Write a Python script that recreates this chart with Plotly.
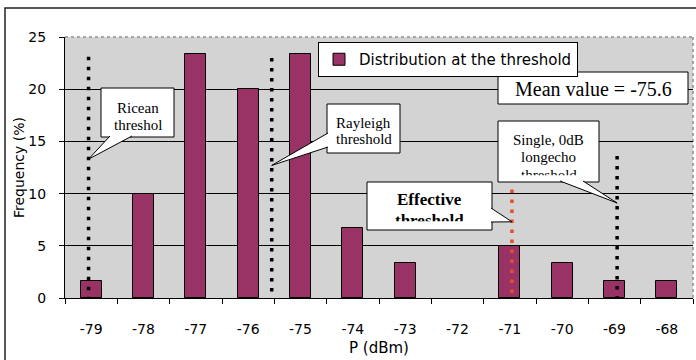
import plotly.graph_objects as go

# Received power bins (dBm) and share of measurements at the threshold (%)
power_dbm = [-79, -78, -77, -76, -75, -74, -73, -72, -71, -70, -69, -68]
frequency_pct = [1.67, 10.0, 23.33, 20.0, 23.33, 6.67, 3.33, 0.0, 5.0, 3.33, 1.67, 1.67]
tick_labels = [str(v) for v in power_dbm]

# Reference thresholds (dBm) and how high their markers rise (%)
threshold_names = ["Ricean", "Rayleigh", "Effective", "Single"]
threshold_dbm = [-79.05, -75.55, -70.96, -68.95]
threshold_top = [23.1, 23.0, 10.4, 13.6]
threshold_colors = ["black", "black", "#E0502E", "black"]
mean_value = -75.6

W, H = 696, 360
ML, MR, MT, MB = 65, 3, 37, 62
X0, X1 = -79.5, -67.5
Y0, Y1 = 0, 25
PW, PH = W - ML - MR, H - MT - MB


def dx(px):
    return X0 + (px - ML) / PW * (X1 - X0)


def dy(py):
    return Y0 + (H - MB - py) / PH * (Y1 - Y0)


def pxp(px):
    return (px - ML) / PW


def pyp(py):
    return (H - MB - py) / PH


fig = go.Figure()

fig.add_trace(go.Bar(
    x=power_dbm, y=frequency_pct, width=0.4,
    marker=dict(color="#993366",
                line=dict(color="black", width=[1 if v > 0 else 0 for v in frequency_pct])),
    name="Distribution at the threshold",
))

for name, xv, top, col in zip(threshold_names, threshold_dbm, threshold_top, threshold_colors):
    fig.add_trace(go.Scatter(
        x=[xv, xv], y=[top, 0], mode="lines", showlegend=False, hoverinfo="skip",
        line=dict(color=col, width=3.5, dash="3.5px,6.5px"),
    ))

shapes = []
# plot-area border (top and right), grey dotted
shapes.append(dict(type="line", xref="paper", yref="paper", x0=0, x1=1, y0=1, y1=1,
                   line=dict(color="#909090", width=1.5, dash="dot"), layer="below"))
shapes.append(dict(type="line", xref="paper", yref="paper", x0=1, x1=1, y0=0, y1=1,
                   line=dict(color="#909090", width=1.5, dash="dot"), layer="below"))
# chart frame
shapes.append(dict(type="rect", xref="paper", yref="paper",
                   x0=pxp(5), x1=pxp(704), y0=pyp(370), y1=pyp(8),
                   line=dict(color="#222222", width=1.5), fillcolor="rgba(0,0,0,0)"))

# callout boxes (pixel edges: left, right, top, bottom)
boxes = [
    (101, 174, 88, 137),    # Ricean
    (327, 400, 104, 153),   # Rayleigh
    (498, 688, 72, 104),    # mean value
    (498, 599, 121, 182),   # single echo
    (367, 492, 182, 230),   # effective
]
for (l, r, t, b) in boxes:
    shapes.append(dict(type="rect", xref="paper", yref="paper",
                       x0=pxp(l), x1=pxp(r), y0=pyp(b), y1=pyp(t),
                       fillcolor="white", line=dict(color="black", width=1), layer="above"))

# callout wedges: two base points (px) on the box edge, tip on the threshold marker
wedges = [
    ((110, 136), (132, 136), threshold_dbm[0], 13.3),
    ((328, 133), (328, 147), threshold_dbm[1], 12.7),
    ((560, 181), (583, 181), threshold_dbm[3], 9.1),
    ((491, 208), (491, 222), threshold_dbm[2], 7.3),
]
for (b1, b2, tx, ty) in wedges:
    path = "M {:.4f},{:.4f} L {:.4f},{:.4f} L {:.4f},{:.4f}".format(
        dx(b1[0]), dy(b1[1]), tx, ty, dx(b2[0]), dy(b2[1]))
    shapes.append(dict(type="path", xref="x", yref="y", path=path,
                       fillcolor="white", line=dict(color="black", width=1), layer="above"))

serif = "Liberation Serif, Times New Roman, serif"
ASC = 0.891  # serif ascent, em


def text_line(cx, baseline, text, size=15, bold=False, clip=None):
    top = baseline - ASC * size
    ann = dict(
        xref="paper", yref="paper", x=pxp(cx), y=pyp(top), xanchor="center", yanchor="top",
        text=("<b>%s</b>" % text) if bold else text, showarrow=False,
        align="center", valign="top", borderpad=0, borderwidth=0,
        font=dict(family=serif, size=size, color="black"),
    )
    if clip is not None:
        ann["height"] = clip - top
    return ann


annotations = [
    text_line(137.5, 113, "Ricean"),
    text_line(137.5, 130, "threshol"),
    text_line(363.5, 128, "Rayleigh"),
    text_line(363.5, 144, "threshold"),
    text_line(593, 96, "Mean value = %.1f" % mean_value, size=20, clip=97),
    text_line(548.5, 145, "Single, 0dB"),
    text_line(548.5, 162, "longecho"),
    text_line(548.5, 180, "threshold", clip=175),
    text_line(429.5, 205, "Effective", size=17, bold=True),
    text_line(429.5, 226, "threshold", size=17, bold=True, clip=221),
]

sans = "DejaVu Sans, Verdana, sans-serif"

fig.update_layout(
    width=W, height=H,
    margin=dict(l=ML, r=MR, t=MT, b=MB, autoexpand=False),
    paper_bgcolor="white", plot_bgcolor="#D3D3D3",
    font=dict(family=sans, size=14, color="black"),
    bargap=0,
    showlegend=True,
    legend=dict(x=pxp(318), y=pyp(42), xanchor="left", yanchor="top",
                bgcolor="white", bordercolor="black", borderwidth=1,
                font=dict(family=sans, size=15), itemwidth=30),
    shapes=shapes,
    annotations=annotations,
    xaxis=dict(
        range=[X0, X1], tickmode="array", tickvals=power_dbm, ticktext=tick_labels,
        ticks="", showgrid=False, zeroline=False,
        showline=True, linecolor="black", linewidth=1,
        ticklabelstandoff=18,
        minor=dict(tickmode="array", tickvals=[v - 0.5 for v in power_dbm] + [power_dbm[-1] + 0.5],
                   ticks="outside", ticklen=5, tickcolor="black", tickwidth=1, showgrid=False),
        title=dict(text="P (dBm)", font=dict(family=sans, size=15), standoff=6),
        tickfont=dict(family=sans, size=14),
    ),
    yaxis=dict(
        range=[Y0, Y1], tickmode="array", tickvals=[0, 5, 10, 15, 20, 25],
        ticks="outside", ticklen=5, tickcolor="black", tickwidth=1,
        showgrid=True, gridcolor="black", gridwidth=1, zeroline=False,
        showline=True, linecolor="black", linewidth=1,
        ticklabelstandoff=10,
        title=dict(text="Frequency (%)", font=dict(family=sans, size=14), standoff=0),
        tickfont=dict(family=sans, size=14),
    ),
)

fig.write_html("out.html")
